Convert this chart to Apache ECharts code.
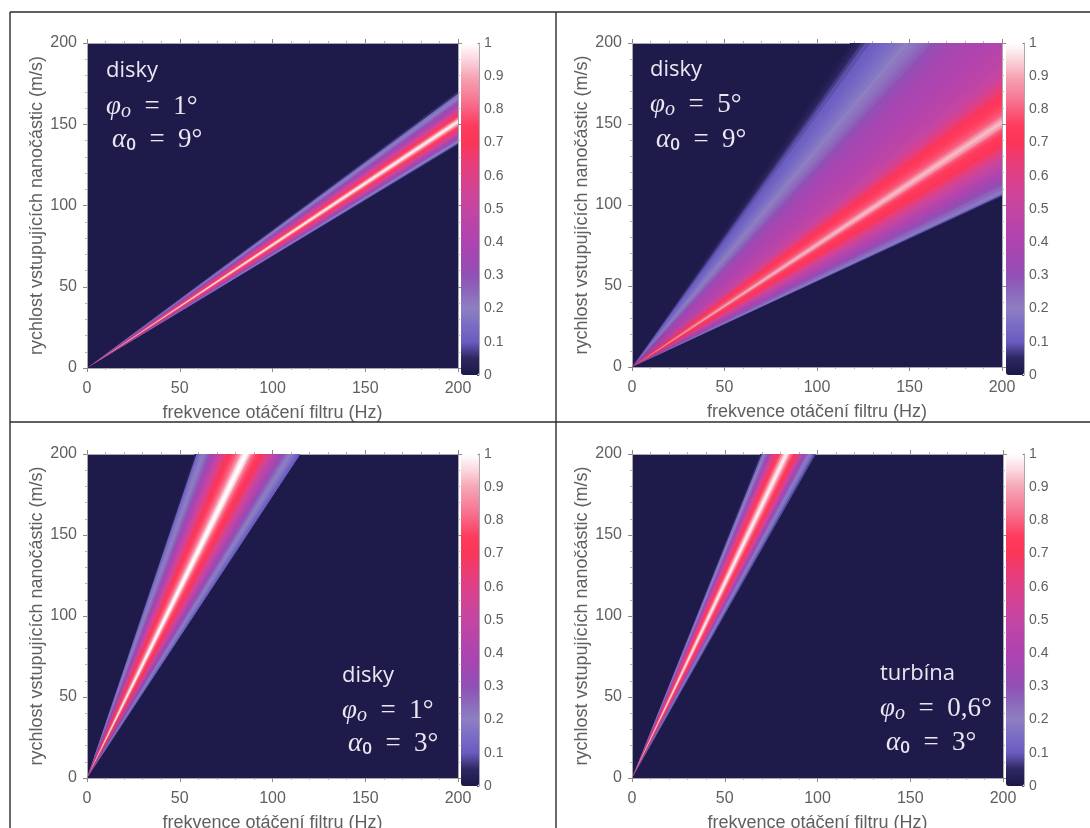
<!DOCTYPE html>
<html><head><meta charset="utf-8">
<style>html,body{margin:0;padding:0;background:#fff;overflow:hidden}#c{width:1090px;height:828px}</style>
<script src="https://cdn.jsdelivr.net/npm/echarts@6/dist/echarts.min.js"></script>
</head><body><div id="c"></div>
<script>
const xTitle = 'frekvence otáčení filtru (Hz)';
const yTitle = 'rychlost vstupujících nanočástic (m/s)';
const colorStops = ['#1c1848','#2c2760','#6a5cc0','#7a6cc4','#8e7fc2','#8c68bc','#9150b5','#a048b2','#ae44b0','#b944aa','#c445a2','#d04496','#de4088','#ec3c74','#fb3558','#ff3a5c','#f96080','#f6849c','#f6a6b6','#fbd6dd','#ffffff'];

// Intensity read along the plot edge: at f = 200 Hz (rimV), at v = 200 m/s (rimF)
const rimV_A = [137,138,139,140,141,142,143,144,145,146,147,148,149,150,151,152,153,154,155,156,157,158,159,160,161,162,163,164,165,166,167,168,169,170];
const level_A = [0.03,0.12,0.2,0.27,0.33,0.4,0.46,0.52,0.58,0.65,0.72,0.77,0.84,0.93,0.98,0.95,0.85,0.77,0.72,0.66,0.6,0.54,0.48,0.43,0.39,0.34,0.3,0.26,0.23,0.2,0.17,0.13,0.05,0];

const rimV_B = [104,105,106,107,108,109,110,112,114,116,118,120,122,124,126,128,130,132,134,136,138,140,142,144,146,147,148,149,150,151,152,153,154,155,156,158,160,162,164,166,168,170,172,174,176,178,180,182,185,188,191,194,197,200];
const level_B = [0,0.05,0.12,0.18,0.21,0.24,0.26,0.3,0.33,0.36,0.39,0.42,0.45,0.48,0.51,0.55,0.58,0.62,0.66,0.7,0.72,0.74,0.75,0.77,0.8,0.84,0.88,0.9,0.92,0.92,0.9,0.87,0.84,0.81,0.79,0.77,0.76,0.75,0.74,0.71,0.68,0.65,0.62,0.59,0.57,0.54,0.52,0.5,0.48,0.47,0.46,0.45,0.44,0.43];
const rimF_B = [198,195,192,189,186,183,180,177,174,171,168,165,162,159,156,153,150,147,144,141,138,135,132,129,126,124,122,120,118];
const levelTop_B = [0.425,0.42,0.41,0.4,0.39,0.385,0.38,0.37,0.355,0.34,0.32,0.3,0.275,0.25,0.23,0.215,0.2,0.18,0.165,0.15,0.135,0.12,0.11,0.09,0.07,0.05,0.03,0.015,0];

const rimF_C = [58,59,60,61,62,63,64,65,66,67,68,69,70,71,72,73,74,75,76,77,78,79,80,81,82,83,84,85,86,87,88,89,90,91,92,93,94,95,96,97,98,99,100,101,102,103,104,105,106,107,108,109,110,111,112,113,114,115];
const level_C = [0.03,0.12,0.16,0.18,0.2,0.22,0.25,0.28,0.32,0.36,0.4,0.44,0.48,0.52,0.56,0.6,0.64,0.68,0.71,0.74,0.76,0.78,0.8,0.84,0.88,0.94,0.98,1,0.98,0.94,0.86,0.82,0.78,0.76,0.74,0.72,0.7,0.66,0.62,0.58,0.55,0.51,0.48,0.45,0.42,0.38,0.35,0.31,0.28,0.25,0.22,0.2,0.19,0.17,0.15,0.12,0.1,0.03];

const rimF_D = [69,70,71,72,73,74,75,76,77,78,79,80,81,82,83,84,85,86,87,88,89,90,91,92,93,94,95,96,97,98,99];
const level_D = [0.05,0.15,0.2,0.26,0.33,0.42,0.5,0.58,0.66,0.72,0.76,0.82,0.9,0.96,0.98,0.92,0.84,0.78,0.74,0.7,0.64,0.56,0.48,0.4,0.33,0.26,0.21,0.17,0.13,0.08,0.03];

const labelsA = ['disky','1°','9°'];
const labelsB = ['disky','5°','9°'];
const labelsC = ['disky','1°','3°'];
const labelsD = ['turbína','0,6°','3°'];

// Each band runs from one rim point past the next; the following band paints over the overlap.
function bands(rim, levels){
  const out=[], last=rim.length-1;
  for(let i=0;i<last;i++){ const e=rim[Math.min(i+2,last)]; out.push([rim[i][0],rim[i][1],rim[i+1][0],rim[i+1][1],levels[i],e[0],e[1]]); }
  return out;
}
const rimsA = bands(rimV_A.map(v=>[200,v]), level_A);
const rimsB = bands(rimV_B.map(v=>[200,v]).concat(rimF_B.map(f=>[f,200])), level_B.concat(levelTop_B));
const rimsC = bands(rimF_C.map(f=>[f,200]), level_C);
const rimsD = bands(rimF_D.map(f=>[f,200]), level_D);

const panels = [
 {data:rimsA,left:87,top:43,w:371,h:325,barLeft:461,barH:332,labels:labelsA,tx:[106,106,112],ty:[71,107,140]},
 {data:rimsB,left:632,top:43,w:370,h:324,barLeft:1006,barH:332,labels:labelsB,tx:[650,650,656],ty:[70,105,140]},
 {data:rimsC,left:87,top:454,w:371,h:324,barLeft:461,barH:332,labels:labelsC,tx:[342,342,348],ty:[676,711,744]},
 {data:rimsD,left:632,top:454,w:371,h:324,barLeft:1006,barH:332,labels:labelsD,tx:[880,880,886],ty:[674,709,743]}
];

const GREY='#5f5f5f', LINE='#a8a8b0', FONT='"Liberation Sans",Arial,sans-serif';
const grid=[],xAxis=[],yAxis=[],series=[],visualMap=[],graphic=[];

function wedge(params,api){
  const o=api.coord([0,0]), a=api.coord([api.value(0),api.value(1)]), b=api.coord([api.value(2),api.value(3)]), e=api.coord([api.value(5),api.value(6)]);
  return {type:'polygon',shape:{points:[o,a,b,e]},style:{fill:api.visual('color')}};
}
function plotAxis(g,pos,labelled){
  return {type:'value',gridIndex:g,position:pos,min:0,max:200,interval:50,
    axisLine:{show:true,onZero:false,lineStyle:{color:LINE,width:1}},
    axisTick:{show:true,length:4,lineStyle:{color:'#8a8a8a'}},
    minorTick:{show:true,splitNumber:5,length:2,lineStyle:{color:'#b5b5b5'}},
    splitLine:{show:false},minorSplitLine:{show:false},
    axisLabel:{show:labelled,color:GREY,fontFamily:FONT,fontSize:16,margin:pos==='bottom'?13:10,padding:pos==='left'?[5,0,0,0]:0,showMinLabel:true,showMaxLabel:true}};
}
panels.forEach((p,i)=>{
  const g=i*2, gb=i*2+1;
  grid.push({left:p.left,top:p.top,width:p.w,height:p.h,show:true,backgroundColor:'#1e1a4a',borderWidth:0,outerBoundsMode:'none'});
  grid.push({left:p.barLeft,top:p.top,width:18,height:p.barH,show:false,outerBoundsMode:'none'});
  const xb=xAxis.length, yb=yAxis.length;
  xAxis.push(Object.assign(plotAxis(g,'bottom',true),{name:xTitle,nameLocation:'middle',nameGap:36,nameTextStyle:{color:GREY,fontFamily:FONT,fontSize:18}}));
  xAxis.push(plotAxis(g,'top',false));
  xAxis.push({type:'value',gridIndex:gb,min:0,max:1,show:false});
  yAxis.push(Object.assign(plotAxis(g,'left',true),{name:yTitle,nameLocation:'middle',nameGap:37,nameTextStyle:{color:GREY,fontFamily:FONT,fontSize:18}}));
  yAxis.push(plotAxis(g,'right',false));
  yAxis.push({type:'value',gridIndex:gb,position:'right',min:0,max:1,interval:0.1,
    axisLine:{show:true,onZero:false,lineStyle:{color:LINE}},
    axisTick:{show:true,inside:true,length:2,lineStyle:{color:'#555'}},
    splitLine:{show:false},
    axisLabel:{color:GREY,fontFamily:FONT,fontSize:14,margin:5,formatter:v=>String(Math.round(v*10)/10)}});
  series.push({type:'custom',coordinateSystem:'cartesian2d',xAxisIndex:xb,yAxisIndex:yb,data:p.data,
    encode:{x:[0,2],y:[1,3]},renderItem:wedge,silent:true,animation:false,clip:true,z:1});
  visualMap.push({type:'continuous',seriesIndex:i,dimension:4,min:0,max:1,left:p.barLeft,top:p.top,
    itemWidth:18,itemHeight:p.barH,padding:0,text:null,showLabel:false,calculable:false,hoverLink:false,
    inRange:{color:colorStops}});

  const white='#e9e8f2';
  graphic.push({type:'text',x:p.tx[0],y:p.ty[0],z:20,style:{text:p.labels[0],fill:white,font:'22px "Open Sans",Lato,sans-serif',textVerticalAlign:'middle'}});
  const mk=(sym,sub,val)=>`{m|${sym}}{s|${sub}}{n|\u2002=\u2002${val}}`;
  const rich={m:{font:'italic 27px "Liberation Serif",serif',fill:white,color:white},
              s:{font:'italic 20px "Liberation Serif",serif',fill:white,color:white,padding:[10,0,0,0]},
              n:{font:'27px "Liberation Serif",serif',fill:white,color:white}};
  const rich2=Object.assign({},rich,{s:{font:'600 17px "Open Sans",sans-serif',fill:white,color:white,padding:[10,0,0,0]}});
  graphic.push({type:'text',x:p.tx[1],y:p.ty[1],z:20,style:{text:mk('φ','o',p.labels[1]),rich,textVerticalAlign:'middle'}});
  graphic.push({type:'text',x:p.tx[2],y:p.ty[2],z:20,style:{text:mk('α','0',p.labels[2]),rich:rich2,textVerticalAlign:'middle'}});
});

// table rules of the composite figure
[[10,12,1090,12],[10,422,1090,422],[10,12,10,828],[556,12,556,828]].forEach(l=>{
  graphic.push({type:'line',z:30,shape:{x1:l[0],y1:l[1],x2:l[2],y2:l[3]},style:{stroke:'#2b2b2b',lineWidth:1.4}});
});

const chart=echarts.init(document.getElementById('c'),null,{renderer:'canvas'});
chart.setOption({animation:false,backgroundColor:'#fff',grid,xAxis,yAxis,series,visualMap,graphic});
</script></body></html>
